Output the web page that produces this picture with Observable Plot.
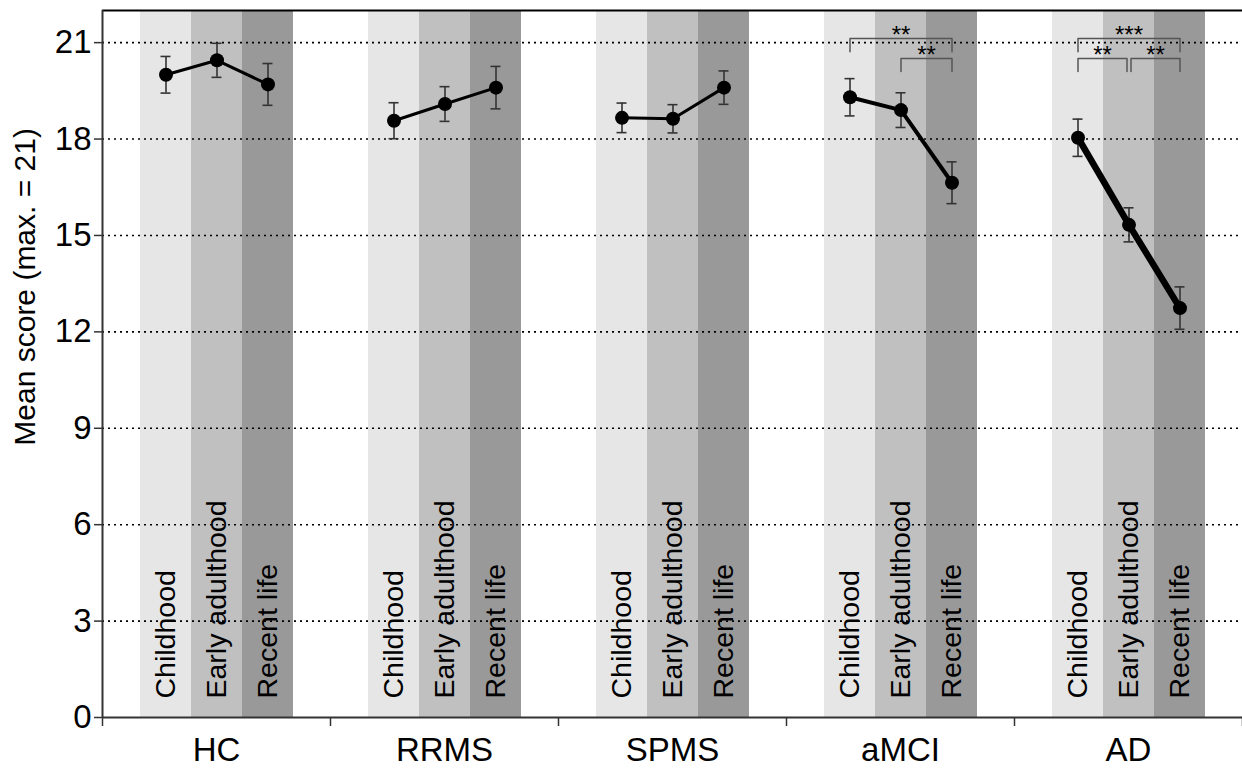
<!DOCTYPE html>
<html>
<head>
<meta charset="utf-8">
<script src="https://cdn.jsdelivr.net/npm/d3@7"></script>
<script src="https://cdn.jsdelivr.net/npm/@observablehq/plot@0.6"></script>
<style>
  html, body { margin: 0; padding: 0; background: #fff; }
  svg { display: block; }
</style>
</head>
<body>
<div id="chart"></div>
<script>
// ---------- data ----------
const groups = ["HC", "RRMS", "SPMS", "aMCI", "AD"];
const periods = ["Childhood", "Early adulthood", "Recent life"];
const meanHC   = [20.00, 20.45, 19.70];
const meanRRMS = [18.57, 19.09, 19.60];
const meanSPMS = [18.66, 18.63, 19.60];
const meanAMCI = [19.30, 18.90, 16.64];
const meanAD   = [18.04, 15.33, 12.74];
const errHC    = [0.57, 0.53, 0.65];
const errRRMS  = [0.56, 0.54, 0.66];
const errSPMS  = [0.46, 0.44, 0.52];
const errAMCI  = [0.58, 0.54, 0.65];
const errAD    = [0.58, 0.53, 0.66];
const yTicks = [0, 3, 6, 9, 12, 15, 18, 21];
const yTitle = "Mean score (max. = 21)";
// significance brackets
const bracketGroup = ["aMCI", "aMCI", "AD", "AD", "AD"];
const bracketFrom  = [0, 1, 0, 0, 1];
const bracketTo    = [2, 2, 2, 1, 2];
const bracketLevel = [1, 0, 1, 0, 0];
const bracketLabel = ["**", "**", "***", "**", "**"];

// ---------- layout / style ----------
const groupPx = 228, padPx = 38, bandPx = 51;
const bandColors = ["#e6e6e6", "#c0c0c0", "#999999"];
const lineWidths = [3, 3, 3, 4, 6.5];
const barY = [20.51, 21.13], legDrop = 0.41;
const font = "'Liberation Sans', Arial, Helvetica, sans-serif";

const means = [meanHC, meanRRMS, meanSPMS, meanAMCI, meanAD];
const errs = [errHC, errRRMS, errSPMS, errAMCI, errAD];
const bandX1 = (i, j) => i + (padPx + bandPx * j) / groupPx;
const bandCx = (i, j) => i + (padPx + bandPx * j + bandPx / 2) / groupPx;

const rows = groups.flatMap((g, i) => periods.map((p, j) => ({
  group: g, gi: i, period: p, j,
  mean: means[i][j], err: errs[i][j],
  x1: bandX1(i, j), x2: bandX1(i, j + 1), cx: bandCx(i, j)
})));

const cap = 5 / groupPx;
const gap = 2 / groupPx;
const brackets = bracketGroup.map((g, k) => {
  const gi = groups.indexOf(g);
  let a = bandCx(gi, bracketFrom[k]), b = bandCx(gi, bracketTo[k]);
  bracketGroup.forEach((g2, m) => {
    if (m === k || g2 !== g || bracketLevel[m] !== bracketLevel[k]) return;
    if (bracketFrom[m] === bracketTo[k]) b -= gap;
    if (bracketTo[m] === bracketFrom[k]) a += gap;
  });
  const top = barY[bracketLevel[k]];
  return {k, a, b, top, label: bracketLabel[k],
    path: [{x: a, y: top - legDrop}, {x: a, y: top}, {x: b, y: top}, {x: b, y: top - legDrop}]};
});

const marks = [
  Plot.rect(rows, {x1: "x1", x2: "x2", fill: "period"}),
  Plot.ruleY(yTicks.filter(d => d > 0), {stroke: "#000", strokeWidth: 1.6, strokeDasharray: "2,4"}),
  Plot.text(rows, {x: "cx", y: 0, text: "period", rotate: -90, textAnchor: "start", lineAnchor: "middle",
    dy: -19, fontSize: 28.5, fill: "#000", fontFamily: font}),
  ...brackets.map(br => Plot.line(br.path, {x: "x", y: "y", stroke: "#555", strokeWidth: 1.5})),
  Plot.text(brackets, {x: d => (d.a + d.b) / 2, y: "top", text: "label", lineAnchor: "bottom", dy: 5,
    fontSize: 24, fill: "#000", fontFamily: font}),
  Plot.ruleX(rows, {x: "cx", y1: d => d.mean - d.err, y2: d => d.mean + d.err, stroke: "#333", strokeWidth: 1.6}),
  Plot.ruleY(rows, {y: d => d.mean + d.err, x1: d => d.cx - cap, x2: d => d.cx + cap, stroke: "#333", strokeWidth: 1.6}),
  Plot.ruleY(rows, {y: d => d.mean - d.err, x1: d => d.cx - cap, x2: d => d.cx + cap, stroke: "#333", strokeWidth: 1.6}),
  ...groups.map((g, i) => Plot.line(rows.filter(r => r.group === g), {x: "cx", y: "mean", stroke: "#000", strokeWidth: lineWidths[i]})),
  Plot.dot(rows, {x: "cx", y: "mean", r: 7, fill: "#000"}),
  // frame lines
  Plot.ruleY([22], {stroke: "#000", strokeWidth: 2}),
  Plot.ruleY([0], {stroke: "#333", strokeWidth: 2}),
  Plot.ruleX([0], {stroke: "#333", strokeWidth: 2}),
  // axes (ticks from the library's axes, labels as text with explicit size)
  Plot.axisY({ticks: yTicks, tickSize: 8, tickFormat: () => "", label: null, stroke: "#333", strokeWidth: 1.5}),
  Plot.text(yTicks, {frameAnchor: "left", y: d => d, text: d => String(d), textAnchor: "end", lineAnchor: "middle",
    dx: -11, fontSize: 33, fill: "#000", fontFamily: font}),
  Plot.axisX({ticks: d3.range(groups.length + 1), tickSize: 9, tickFormat: () => "", label: null, stroke: "#333", strokeWidth: 1.5}),
  Plot.text(groups, {x: (d, i) => i + 0.5, frameAnchor: "bottom", text: d => d, lineAnchor: "top", dy: 20,
    fontSize: 33, fill: "#000", fontFamily: font}),
  Plot.text([yTitle], {frameAnchor: "left", y: 13.4, dx: -77, rotate: -90, textAnchor: "middle", lineAnchor: "middle",
    fontSize: 30, fill: "#000", fontFamily: font})
];

const chart = Plot.plot({
  width: 1242,
  height: 769,
  marginLeft: 102,
  marginRight: 0,
  marginTop: 10,
  marginBottom: 52,
  style: {fontFamily: font, background: "#fff", color: "#000"},
  x: {type: "linear", domain: [0, groups.length], axis: null},
  y: {domain: [0, 22], axis: null},
  color: {domain: periods, range: bandColors},
  marks
});
document.getElementById("chart").appendChild(chart);
</script>
</body>
</html>
